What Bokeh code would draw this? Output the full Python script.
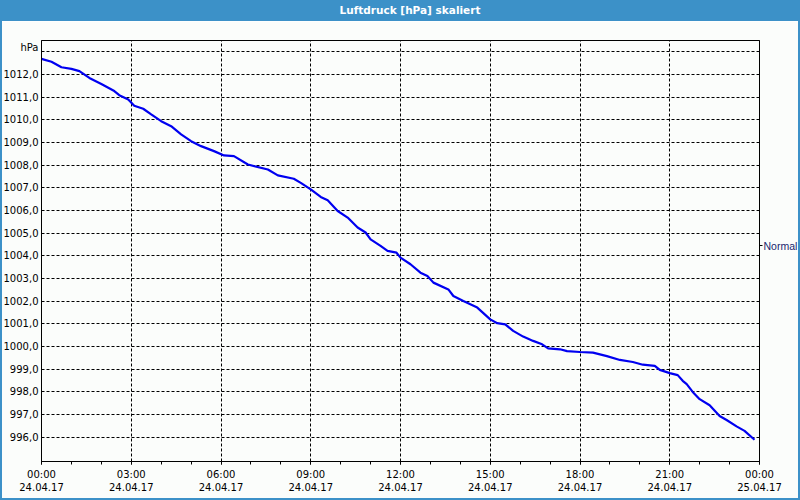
from bokeh.plotting import figure
from bokeh.layouts import column
from bokeh.models import FixedTicker, LinearAxis, Div, InlineStyleSheet
from bokeh.embed import file_html
from bokeh.resources import INLINE

# ---- data ----
times = ["00:00", "00:20", "00:40", "01:00", "01:16", "01:36", "02:00", "02:26", "02:36", "02:54",
         "03:06", "03:24", "03:40", "04:00", "04:20", "04:40", "05:00", "05:20", "05:46", "06:06",
         "06:26", "06:54", "07:34", "07:54", "08:26", "08:40", "09:00", "09:20", "09:34", "09:54",
         "10:14", "10:34", "10:50", "11:00", "11:20", "11:34", "11:52", "12:00", "12:20", "12:40",
         "12:54", "13:06", "13:36", "13:46", "14:06", "14:34", "15:00", "15:14", "15:30", "15:46",
         "16:06", "16:26", "16:44", "16:56", "17:20", "17:34", "18:00", "18:26", "18:54", "19:20",
         "19:46", "20:06", "20:30", "20:40", "21:00", "21:16", "21:26", "21:34", "21:46", "22:00",
         "22:20", "22:40", "22:54", "23:14", "23:30", "23:50"]
pressure = [1012.69, 1012.56, 1012.32, 1012.25, 1012.15, 1011.85, 1011.58, 1011.27, 1011.09, 1010.90,
            1010.62, 1010.49, 1010.24, 1009.94, 1009.72, 1009.36, 1009.06, 1008.84, 1008.62, 1008.43,
            1008.40, 1008.03, 1007.81, 1007.55, 1007.40, 1007.22, 1006.93, 1006.60, 1006.45, 1005.98,
            1005.69, 1005.25, 1005.03, 1004.73, 1004.44, 1004.22, 1004.14, 1003.92, 1003.63, 1003.26,
            1003.11, 1002.82, 1002.52, 1002.23, 1002.01, 1001.72, 1001.20, 1001.03, 1000.98, 1000.69,
            1000.44, 1000.25, 1000.10, 999.92, 999.88, 999.80, 999.76, 999.73, 999.58, 999.41,
            999.32, 999.20, 999.15, 998.97, 998.83, 998.74, 998.49, 998.34, 998.00, 997.68,
            997.41, 996.94, 996.76, 996.48, 996.28, 995.89]

x_ticks = [0, 3, 6, 9, 12, 15, 18, 21, 24]
x_tick_labels = ["00:00\n24.04.17", "03:00\n24.04.17", "06:00\n24.04.17", "09:00\n24.04.17",
                 "12:00\n24.04.17", "15:00\n24.04.17", "18:00\n24.04.17", "21:00\n24.04.17",
                 "00:00\n25.04.17"]
x_minor = list(range(0, 25))
y_ticks = [996, 997, 998, 999, 1000, 1001, 1002, 1003, 1004, 1005, 1006, 1007, 1008, 1009,
           1010, 1011, 1012, 1013]
y_label_ticks = [996, 997, 998, 999, 1000, 1001, 1002, 1003, 1004, 1005, 1006, 1007, 1008, 1009,
                 1010, 1011, 1012, 1013.2]
y_tick_labels = ["996,0", "997,0", "998,0", "999,0", "1000,0", "1001,0", "1002,0", "1003,0",
                 "1004,0", "1005,0", "1006,0", "1007,0", "1008,0", "1009,0", "1010,0", "1011,0",
                 "1012,0", "hPa"]
normal_level = 1004.45
title_text = "Luftdruck [hPa] skaliert"

hours = [int(t[:2]) + int(t[3:]) / 60 for t in times]

BLUE = "#3c91c8"
BG = "#fbfdfb"
FONT = "DejaVu Sans"

# ---- title bar ----
tb = Div(text=title_text, width=800, height=21,
         styles={"background-color": BLUE, "color": "white", "font-family": FONT,
                 "font-weight": "bold", "font-size": "10.5px", "line-height": "21px",
                 "text-align": "center", "padding-left": "20px", "box-sizing": "border-box",
                 "margin": "0"})

# ---- main chart ----
edge = InlineStyleSheet(css=(":host { position: relative; } "
                             ":host::after { content: ''; position: absolute; left: 0; right: 0; "
                             "top: 0; bottom: 0; border: 2px solid " + BLUE + "; border-top: 0; "
                             "pointer-events: none; z-index: 100; box-sizing: border-box; }"))
p = figure(width=800, height=479, x_range=(0, 24), y_range=(994.93, 1013.5),
           toolbar_location=None, output_backend="svg",
           min_border_left=40, min_border_right=40, min_border_top=19, min_border_bottom=39,
           stylesheets=[edge])
p.background_fill_color = BG
p.border_fill_color = BG
p.outline_line_color = "black"
p.outline_line_width = 1

p.line(hours, pressure, line_color="#0000f0", line_width=2.2)

xax = p.xaxis[0]
xax.ticker = FixedTicker(ticks=x_ticks, minor_ticks=x_minor)
xax.major_label_overrides = dict(zip(x_ticks, x_tick_labels))
xax.major_tick_in = 0
xax.major_tick_out = 3
xax.minor_tick_in = 0
xax.minor_tick_out = 3
xax.major_label_standoff = 4
xax.major_label_text_font = FONT
xax.major_label_text_font_size = "10px"
xax.major_label_text_color = "black"
xax.axis_line_color = "black"
xax.major_tick_line_color = "black"
xax.minor_tick_line_color = "black"

yax = p.yaxis[0]
yax.ticker = FixedTicker(ticks=y_label_ticks, minor_ticks=[])
yax.major_label_overrides = dict(zip(y_label_ticks, y_tick_labels))
yax.major_tick_in = 0
yax.major_tick_out = 0
yax.minor_tick_out = 0
yax.major_label_standoff = 3
yax.major_label_text_font = FONT
yax.major_label_text_font_size = "10px"
yax.major_label_text_color = "black"
yax.axis_line_color = "black"

rax = LinearAxis(ticker=FixedTicker(ticks=[normal_level], minor_ticks=[]),
                 major_label_overrides={normal_level: "Normal"})
rax.major_tick_in = 0
rax.major_tick_out = 3
rax.minor_tick_out = 0
rax.major_label_standoff = 1
rax.major_label_text_font = "Liberation Sans"
rax.major_label_text_font_size = "10.5px"
rax.major_label_text_color = "#1a1f6e"
rax.axis_line_color = "black"
p.add_layout(rax, "right")

p.xgrid.ticker = FixedTicker(ticks=x_ticks)
p.ygrid.ticker = FixedTicker(ticks=y_ticks)
for g in (p.xgrid, p.ygrid):
    g.grid_line_color = "black"
    g.grid_line_dash = "3 2"
    g.grid_line_width = 1

layout = column(tb, p, spacing=0)
open("out.html", "w").write(file_html(layout, INLINE))
